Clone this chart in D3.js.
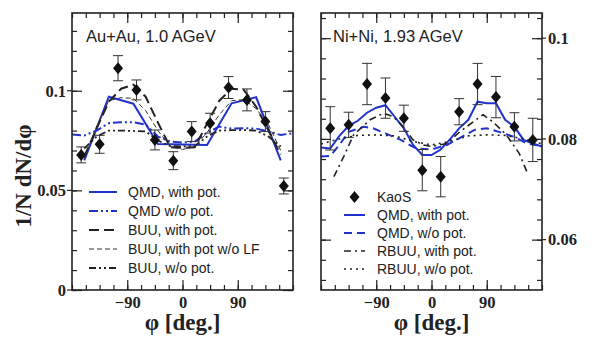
<!DOCTYPE html>
<html>
<head>
<meta charset="utf-8">
<script src="https://cdn.jsdelivr.net/npm/d3@7"></script>
<style>
  body { margin: 0; background: #fff; }
  .tick text { font-family: "Liberation Serif", serif; font-weight: bold; font-size: 16.5px; fill: #222; }
  .tick line { stroke: #222; stroke-width: 1.2; }
  .leg { font-family: "Liberation Sans", Arial, sans-serif; font-size: 14px; fill: #222; }
  .ttl { font-family: "Liberation Sans", Arial, sans-serif; font-size: 16.5px; fill: #222; }
  .axt { font-family: "Liberation Serif", serif; font-weight: bold; font-size: 23px; fill: #222; }
</style>
</head>
<body>
<div id="chart"></div>
<script>
// --- data ---
var phiBins = [-165, -135, -105, -75, -45, -15, 15, 45, 75, 105, 135, 165];

// Au+Au 1.0 AGeV
var auData = [0.0678, 0.0731, 0.1113, 0.1004, 0.0753, 0.0649, 0.0795, 0.0837, 0.1016, 0.0954, 0.0845, 0.0522];
var auErr = [0.004, 0.0045, 0.0063, 0.005, 0.005, 0.0045, 0.005, 0.005, 0.0055, 0.0055, 0.005, 0.004];

var phi40 = [-160, -120, -80, -40, 0, 40, 80, 120, 160];
var auQmdPot = [0.065, 0.097, 0.0935, 0.0733, 0.073, 0.0728, 0.0937, 0.0967, 0.065];

var phi20full = [-180, -160, -140, -120, -100, -80, -60, -40, -20, 0, 20, 40, 60, 80, 100, 120, 140, 160, 180];
var auQmdNoPot = [0.078, 0.0775, 0.080, 0.0837, 0.0842, 0.0842, 0.083, 0.077, 0.0745, 0.074, 0.0745, 0.079, 0.082, 0.081, 0.0812, 0.081, 0.0795, 0.0778, 0.0787];

var phi20 = [-160, -140, -120, -100, -80, -60, -40, -20, 0, 20, 40, 60, 80, 100, 120, 140, 160];
var auBuuPot = [0.067, 0.081, 0.0945, 0.101, 0.103, 0.097, 0.084, 0.0716, 0.0713, 0.0716, 0.0835, 0.095, 0.101, 0.1004, 0.092, 0.080, 0.068];
var auBuuNoLF = [0.066, 0.082, 0.095, 0.0965, 0.0962, 0.090, 0.080, 0.072, 0.0705, 0.072, 0.079, 0.088, 0.095, 0.0955, 0.091, 0.083, 0.070];
var auBuuNoPot = [0.071, 0.077, 0.080, 0.080, 0.0798, 0.0796, 0.075, 0.0722, 0.072, 0.0722, 0.077, 0.080, 0.0802, 0.0803, 0.080, 0.077, 0.072];

// Ni+Ni 1.93 AGeV
var niData = [0.0821, 0.0828, 0.0909, 0.0881, 0.0841, 0.0738, 0.0725, 0.0854, 0.0909, 0.0883, 0.0824, 0.0798];
var niErr = [0.0043, 0.0025, 0.0041, 0.004, 0.0026, 0.0041, 0.004, 0.0026, 0.0041, 0.0041, 0.0028, 0.0043];

var phi15 = [-180, -165, -150, -135, -120, -105, -90, -75, -60, -45, -30, -15, 0, 15, 30, 45, 60, 75, 90, 105, 120, 135, 150, 165, 180];
var niQmdPot = [0.0783, 0.0781, 0.0806, 0.0826, 0.0836, 0.0852, 0.0862, 0.0867, 0.0844, 0.0821, 0.0788, 0.0768, 0.0768, 0.0779, 0.0799, 0.0821, 0.0838, 0.0874, 0.0871, 0.0871, 0.0838, 0.0824, 0.0798, 0.0791, 0.0785];

var niQmdNoPotPhi = [-180, -165, -150, -135, -110, -95, -75, -50, -25, 0, 25, 45, 70, 90, 110, 135, 155, 180];
var niQmdNoPot = [0.0765, 0.0766, 0.0788, 0.0814, 0.0824, 0.0821, 0.0811, 0.0798, 0.0781, 0.0779, 0.0788, 0.0801, 0.0818, 0.0821, 0.0814, 0.0804, 0.0791, 0.0786];

var niRbuuPotPhi = [-159, -143, -127, -100, -78, -62, -46, -30, -13, 0, 25, 46, 68, 84, 100, 122, 143, 157];
var niRbuuPot = [0.0725, 0.0765, 0.0808, 0.0838, 0.0851, 0.0844, 0.0824, 0.0798, 0.0788, 0.0785, 0.0791, 0.0814, 0.0834, 0.0848, 0.0834, 0.0808, 0.0771, 0.073];

var phi30full = [-180, -150, -120, -90, -60, -30, 0, 30, 60, 90, 120, 150, 180];
var niRbuuNoPot = [0.079, 0.080, 0.0807, 0.0808, 0.0806, 0.0795, 0.0788, 0.0795, 0.0806, 0.0808, 0.0807, 0.080, 0.079];

var blue = '#2233cc';

var svg = d3.select('#chart').append('svg')
    .attr('width', 599)
    .attr('height', 352)
    .style('background', '#fff');

function zip(xs, ys) { return xs.map((x, i) => [x, ys[i]]); }

function drawPanel(p) {
    var x = d3.scaleLinear().domain([-180, 180]).range([p.x0, p.x1]);
    var y = d3.scaleLinear().domain(p.yDomain).range([290, 13]);
    var g = svg.append('g');

    // minor + major ticks, all inside
    var minorX = d3.range(-180, 181, 22.5);
    var majorX = [-90, 0, 90];
    g.append('g').attr('transform', 'translate(0,290)')
        .call(d3.axisBottom(x).tickValues(minorX).tickSize(-5).tickFormat(''));
    g.append('g').attr('transform', 'translate(0,290)')
        .call(d3.axisBottom(x).tickValues(majorX).tickSize(-10).tickPadding(6).tickFormat(d3.format('d')));
    g.append('g').attr('transform', 'translate(0,13)')
        .call(d3.axisTop(x).tickValues(minorX).tickSize(-5).tickFormat(''));
    g.append('g').attr('transform', 'translate(0,13)')
        .call(d3.axisTop(x).tickValues(majorX).tickSize(-10).tickFormat(''));

    var leftLab = p.labelSide === 'left';
    g.append('g').attr('transform', `translate(${p.x0},0)`)
        .call(d3.axisLeft(y).tickValues(p.yMinor).tickSize(-5).tickFormat(''));
    g.append('g').attr('transform', `translate(${p.x0},0)`)
        .call(d3.axisLeft(y).tickValues(p.yMajor).tickSize(-10).tickPadding(6).tickFormat(leftLab ? d => String(d) : ''));
    g.append('g').attr('transform', `translate(${p.x1},0)`)
        .call(d3.axisRight(y).tickValues(p.yMinor).tickSize(-5).tickFormat(''));
    g.append('g').attr('transform', `translate(${p.x1},0)`)
        .call(d3.axisRight(y).tickValues(p.yMajor).tickSize(-10).tickPadding(6).tickFormat(leftLab ? '' : d => String(d)));
    g.selectAll('.domain').remove();

    // short outward stub on labelled major ticks
    g.selectAll('.stub').data(p.yMajor).enter().append('line')
        .attr('x1', leftLab ? p.x0 - 5 : p.x1)
        .attr('x2', leftLab ? p.x0 : p.x1 + 4)
        .attr('y1', d => y(d)).attr('y2', d => y(d))
        .attr('stroke', '#222').attr('stroke-width', 1.2);

    var clip = 'clip' + p.id;
    svg.append('clipPath').attr('id', clip).append('rect')
        .attr('x', p.x0).attr('y', 13).attr('width', p.x1 - p.x0).attr('height', 277);

    var plot = g.append('g').attr('clip-path', `url(#${clip})`);
    var line = d3.line().x(d => x(d[0])).y(d => y(d[1]));

    p.curves.forEach(c => {
        plot.append('path')
            .datum(zip(c.phi, c.vals))
            .attr('d', line)
            .attr('fill', 'none')
            .attr('stroke', c.color)
            .attr('stroke-width', c.width)
            .attr('stroke-dasharray', c.dash);
    });

    // data points with error bars
    var pts = plot.selectAll('.pt').data(zip(p.dataPhi, p.data).map((d, i) => [d[0], d[1], p.err[i]]))
        .enter().append('g');
    pts.append('line')
        .attr('x1', d => x(d[0])).attr('x2', d => x(d[0]))
        .attr('y1', d => y(d[1] - d[2])).attr('y2', d => y(d[1] + d[2]))
        .attr('stroke', '#333').attr('stroke-width', 1);
    [-1, 1].forEach(s => {
        pts.append('line')
            .attr('x1', d => x(d[0]) - 5).attr('x2', d => x(d[0]) + 5)
            .attr('y1', d => y(d[1] + s * d[2])).attr('y2', d => y(d[1] + s * d[2]))
            .attr('stroke', '#333').attr('stroke-width', 1);
    });
    pts.append('path')
        .attr('d', d => {
            var cx = x(d[0]), cy = y(d[1]);
            return `M${cx},${cy - 6}L${cx + 5},${cy}L${cx},${cy + 6}L${cx - 5},${cy}Z`;
        })
        .attr('fill', '#111');

    // frame
    g.append('rect')
        .attr('x', p.x0).attr('y', 13)
        .attr('width', p.x1 - p.x0).attr('height', 277)
        .attr('fill', 'none').attr('stroke', '#222').attr('stroke-width', 1.6);

    g.append('text').attr('class', 'ttl')
        .attr('x', p.titleX).attr('y', 42).text(p.title);

    g.append('text').attr('class', 'axt')
        .attr('x', (p.x0 + p.x1) / 2).attr('y', 330)
        .attr('text-anchor', 'middle').text('φ [deg.]');

    // legend
    var lg = g.append('g');
    p.legend.forEach((item, i) => {
        var yy = p.legY + i * p.legStep;
        if (item.marker) {
            var cx = (p.legX0 + p.legX1) / 2;
            lg.append('path')
                .attr('d', `M${cx},${yy - 6}L${cx + 5},${yy}L${cx},${yy + 6}L${cx - 5},${yy}Z`)
                .attr('fill', '#111');
        } else {
            lg.append('line')
                .attr('x1', p.legX0).attr('x2', p.legX1)
                .attr('y1', yy).attr('y2', yy)
                .attr('stroke', item.color)
                .attr('stroke-width', item.width)
                .attr('stroke-dasharray', item.dash);
        }
        lg.append('text').attr('class', 'leg')
            .attr('x', p.legText).attr('y', yy + 5).text(item.label);
    });
}

var auCurves = [
    { label: 'QMD, with pot.', phi: phi40, vals: auQmdPot, color: blue, width: 2, dash: null },
    { label: 'QMD w/o pot.', phi: phi20full, vals: auQmdNoPot, color: blue, width: 2, dash: '9,3,2,3,2,3' },
    { label: 'BUU, with pot.', phi: phi20, vals: auBuuPot, color: '#222', width: 2, dash: '10,5' },
    { label: 'BUU, with pot w/o LF', phi: phi20, vals: auBuuNoLF, color: '#333', width: 1, dash: '5,3' },
    { label: 'BUU, w/o pot.', phi: phi20, vals: auBuuNoPot, color: '#222', width: 1.8, dash: '7,3,2,3,2,3' }
];

drawPanel({
    id: 'au', x0: 72, x1: 293,
    yDomain: [0, 0.139],
    yMinor: d3.range(0, 14).map(i => i / 100),
    yMajor: [0, 0.05, 0.1],
    labelSide: 'left',
    title: 'Au+Au, 1.0 AGeV', titleX: 86,
    dataPhi: phiBins, data: auData, err: auErr,
    curves: auCurves,
    legend: auCurves,
    legX0: 89, legX1: 117, legText: 128, legY: 192, legStep: 19
});

var niCurves = [
    { label: 'QMD, with pot.', phi: phi15, vals: niQmdPot, color: blue, width: 2, dash: null },
    { label: 'QMD, w/o pot.', phi: niQmdNoPotPhi, vals: niQmdNoPot, color: blue, width: 2, dash: '8,5' },
    { label: 'RBUU, with pot.', phi: niRbuuPotPhi, vals: niRbuuPot, color: '#222', width: 1.6, dash: '7,4,2,4' },
    { label: 'RBUU, w/o pot.', phi: phi30full, vals: niRbuuNoPot, color: '#222', width: 1.6, dash: '2,4' }
];

drawPanel({
    id: 'ni', x0: 321, x1: 542,
    yDomain: [0.05, 0.105],
    yMinor: d3.range(0, 14).map(i => 0.052 + i * 0.004),
    yMajor: [0.06, 0.08, 0.1],
    labelSide: 'right',
    title: 'Ni+Ni, 1.93 AGeV', titleX: 333,
    dataPhi: phiBins, data: niData, err: niErr,
    curves: niCurves,
    legend: [{ label: 'KaoS', marker: true }].concat(niCurves),
    legX0: 344, legX1: 365, legText: 377, legY: 197, legStep: 18
});

svg.append('text').attr('class', 'axt')
    .attr('transform', 'translate(31,176) rotate(-90)')
    .attr('text-anchor', 'middle')
    .text('1/N dN/dφ');
</script>
</body>
</html>
